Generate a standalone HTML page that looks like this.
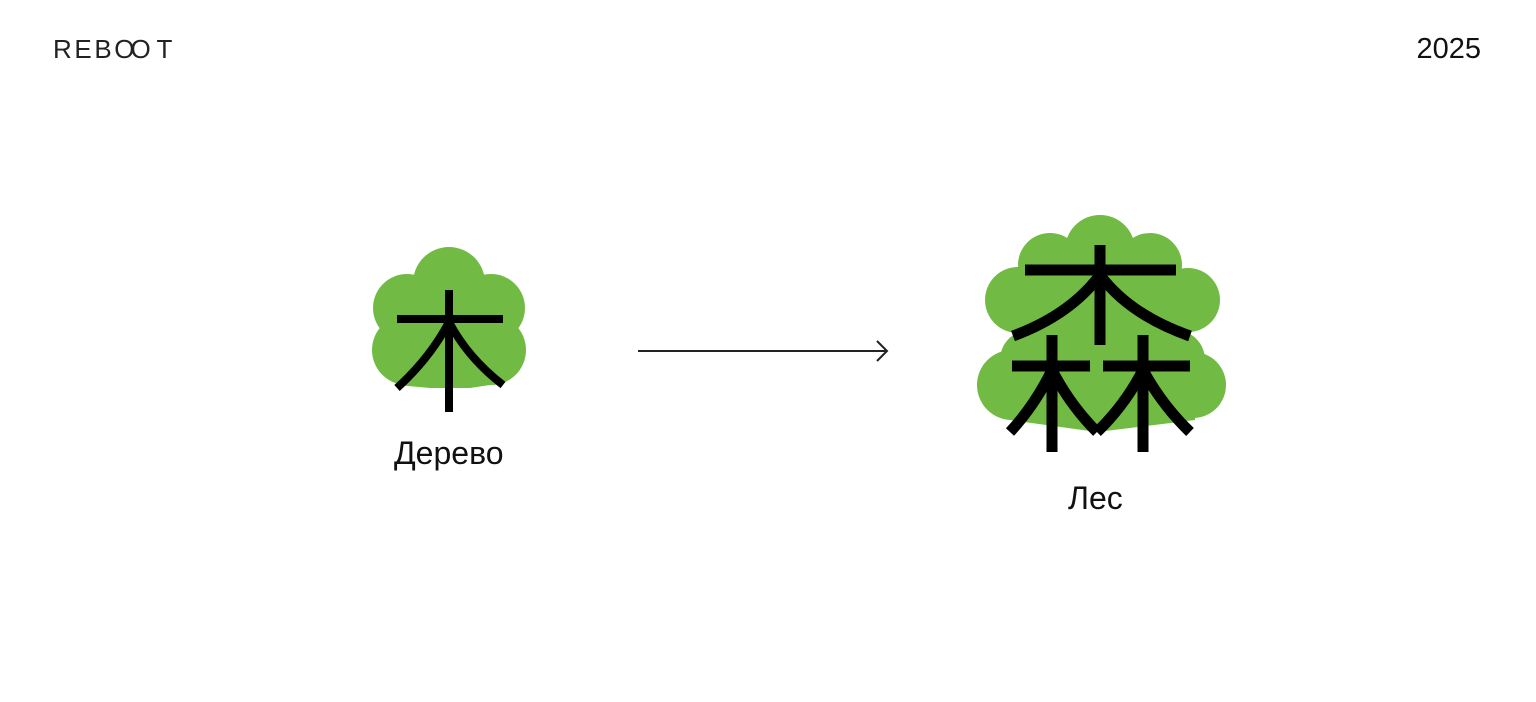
<!DOCTYPE html>
<html><head><meta charset="utf-8"><style>
html,body{margin:0;padding:0;background:#fff;width:1536px;height:702px;overflow:hidden;font-family:"Liberation Sans",sans-serif;color:#1a1a1a}
.t{position:absolute;white-space:nowrap}
</style></head><body>
<div class="t" style="left:53px;top:34px;font-size:26px;letter-spacing:2.6px;color:#222">REB<span style="letter-spacing:-4px">OO</span>&nbsp;T</div>
<div class="t" style="right:55px;top:33px;font-size:29px;color:#111">2025</div>
<svg width="1536" height="702" style="position:absolute;left:0;top:0">
<g fill="#71bb45">
<circle cx="449" cy="283" r="36"/>
<circle cx="407" cy="308" r="34"/>
<circle cx="491" cy="308" r="34"/>
<circle cx="407" cy="350" r="35"/>
<circle cx="491" cy="350" r="35"/>
<rect x="410" y="300" width="80" height="80"/>
<polygon points="397,385 449,330 503,383 470,388 430,388"/>
</g>
<g stroke="#000" stroke-width="8" fill="none">
<line x1="397" y1="319" x2="503" y2="319"/>
<line x1="449" y1="290" x2="449" y2="412"/>
<path d="M449,322 Q430,358 397,388"/>
<path d="M449,322 Q468,358 503,385"/>
</g>
<g fill="#71bb45">
<circle cx="1100" cy="250" r="35"/>
<circle cx="1050" cy="265" r="32"/>
<circle cx="1150" cy="265" r="32"/>
<circle cx="1018" cy="300" r="33"/>
<circle cx="1188" cy="300" r="32"/>
<circle cx="1012" cy="385" r="35"/>
<circle cx="1193" cy="385" r="33"/>
<circle cx="1030" cy="360" r="30"/>
<circle cx="1175" cy="360" r="30"/>
<rect x="1030" y="270" width="145" height="120"/>
<polygon points="1010,420 1097,432 1195,420 1195,380 1010,380"/>
</g>
<g stroke="#000" stroke-width="11" fill="none">
<line x1="1025" y1="270" x2="1176" y2="270"/>
<line x1="1100" y1="245" x2="1100" y2="345"/>
<path d="M1100,275 Q1070,315 1013,336"/>
<path d="M1100,275 Q1130,315 1190,336"/>
<line x1="1012" y1="366" x2="1090" y2="366"/>
<line x1="1052" y1="335" x2="1052" y2="452"/>
<path d="M1052,370 Q1035,405 1010,432"/>
<path d="M1052,370 Q1070,405 1097,432"/>
<line x1="1103" y1="366" x2="1190" y2="366"/>
<line x1="1143" y1="335" x2="1143" y2="452"/>
<path d="M1143,370 Q1125,405 1097,432"/>
<path d="M1143,370 Q1162,405 1190,432"/>
</g>
<g stroke="#222" stroke-width="2" fill="none">
<line x1="638" y1="351" x2="887" y2="351"/>
<polyline points="877,341 887,351 877,361"/>
</g>
</svg>
<div class="t" style="left:394px;top:435px;font-size:32px;color:#111">Дерево</div>
<div class="t" style="left:1068px;top:480px;font-size:32px;color:#111">Лес</div>
</body></html>
